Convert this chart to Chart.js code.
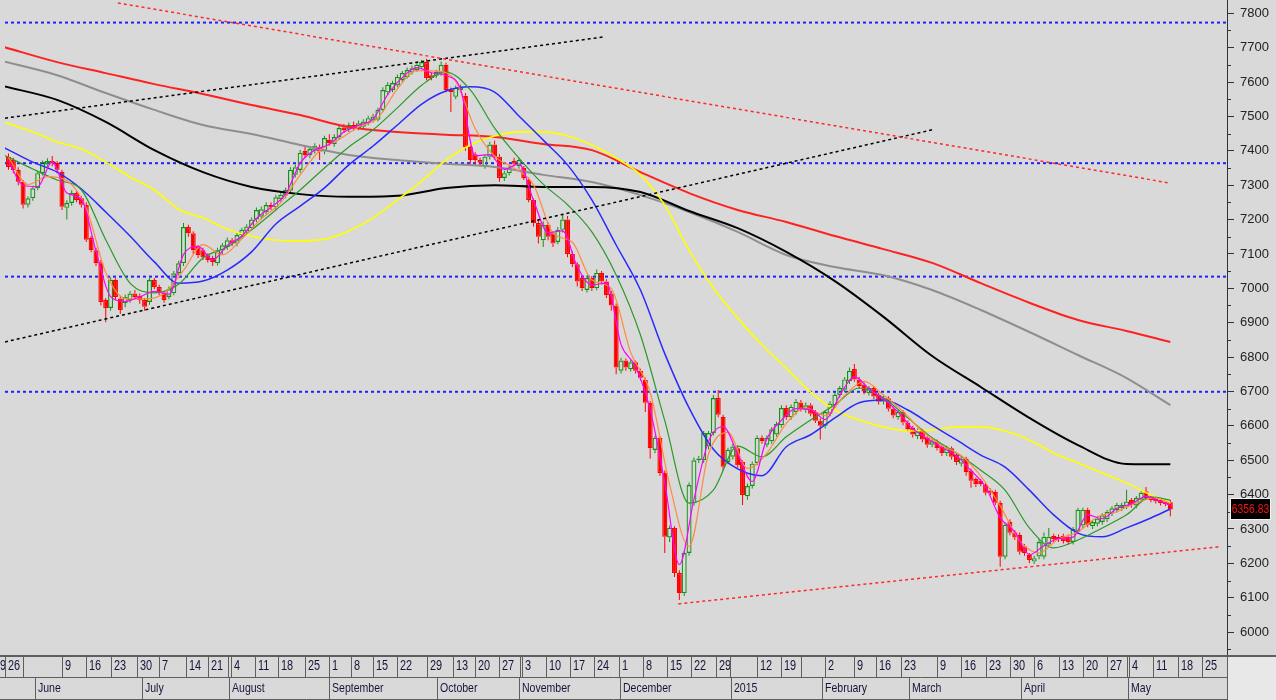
<!DOCTYPE html>
<html><head><meta charset="utf-8">
<script src="https://cdn.jsdelivr.net/npm/chart.js@4.4.1/dist/chart.umd.min.js"></script>
<style>html,body{margin:0;padding:0;background:#d9d9d9;overflow:hidden}canvas{display:block}</style>
</head><body>
<canvas id="c" width="1276" height="700"></canvas>
<script>
// ---------- candles (one entry per trading bar, index 0..239) ----------
const openP = [
7382,7373,7344,7310,7243,7262,7291,7335,7360,7370,
7365,7338,7234,7248,7277,7262,7243,7146,7111,7076,
6966,6943,7025,6970,6957,6965,6985,6978,6966,6960,
7024,7004,6986,6975,6986,7044,7073,7178,7160,7120,
7111,7096,7088,7073,7111,7120,7140,7130,7155,7165,
7175,7200,7208,7222,7242,7236,7260,7270,7284,7330,
7344,7400,7387,7400,7410,7398,7432,7420,7440,7468,
7462,7475,7466,7470,7480,7488,7490,7519,7570,7577,
7590,7606,7615,7628,7635,7643,7658,7620,7618,7625,
7650,7577,7557,7577,7560,7411,7390,7373,7355,7383,
7418,7383,7321,7335,7370,7355,7350,7315,7257,7190,
7140,7185,7160,7135,7170,7200,7100,7070,7030,6995,
7030,7000,7045,7020,6985,6950,6760,6790,6765,6785,
6760,6733,6667,6530,6565,6463,6275,6303,6172,6113,
6230,6375,6500,6500,6540,6579,6681,6626,6495,6510,
6535,6495,6395,6425,6492,6565,6545,6555,6575,6602,
6652,6625,6640,6668,6645,6660,6640,6615,6600,6635,
6660,6690,6705,6730,6765,6735,6720,6695,6710,6690,
6670,6680,6650,6625,6640,6610,6595,6570,6585,6565,
6545,6555,6540,6520,6535,6515,6490,6505,6470,6445,
6440,6428,6412,6408,6376,6219,6321,6290,6283,6250,
6225,6205,6220,6219,6255,6280,6277,6280,6277,6262,
6292,6310,6356,6308,6315,6320,6328,6345,6355,6360,
6365,6385,6368,6385,6410,6392,6388,6385,6380,6378];
const highP = [
7392,7380,7352,7315,7268,7298,7340,7372,7378,7385,
7370,7345,7256,7285,7282,7268,7250,7152,7118,7082,
6972,7032,7030,6978,6982,6992,6995,6985,6972,7030,
7030,7010,6992,7005,7050,7080,7190,7185,7166,7125,
7118,7102,7095,7118,7132,7148,7146,7162,7176,7186,
7206,7235,7238,7250,7250,7272,7280,7293,7352,7360,
7402,7415,7412,7422,7418,7444,7448,7448,7472,7478,
7482,7485,7488,7492,7502,7508,7525,7585,7600,7604,
7622,7632,7642,7648,7656,7664,7668,7626,7636,7660,
7656,7584,7590,7592,7568,7418,7396,7380,7390,7426,
7430,7390,7342,7358,7380,7380,7356,7322,7262,7200,
7195,7192,7166,7178,7215,7210,7108,7076,7036,7038,
7036,7055,7050,7026,6992,6956,6798,6796,6792,6790,
6766,6740,6672,6572,6570,6470,6310,6308,6180,6235,
6435,6508,6512,6585,6585,6690,6704,6632,6536,6548,
6542,6500,6432,6496,6572,6572,6572,6596,6612,6660,
6660,6662,6678,6675,6668,6666,6646,6622,6646,6672,
6696,6716,6742,6770,6780,6742,6726,6716,6716,6696,
6688,6686,6656,6648,6646,6616,6600,6592,6590,6570,
6562,6560,6546,6542,6540,6520,6512,6510,6476,6450,
6446,6434,6418,6414,6382,6318,6328,6296,6290,6256,
6230,6222,6270,6290,6303,6286,6284,6286,6284,6306,
6362,6362,6362,6326,6336,6346,6356,6366,6376,6376,
6414,6390,6396,6410,6422,6398,6394,6390,6386,6384];
const lowP = [
7345,7335,7300,7232,7235,7255,7285,7328,7352,7355,
7335,7228,7200,7240,7250,7235,7135,7105,7065,6950,
6901,6935,6965,6925,6945,6958,6968,6955,6935,6952,
6998,6980,6958,6968,6980,7038,7065,7150,7100,7088,
7082,7075,7065,7066,7100,7112,7122,7122,7148,7158,
7168,7192,7200,7215,7228,7228,7252,7262,7276,7322,
7336,7380,7378,7392,7373,7390,7415,7412,7432,7452,
7455,7458,7460,7465,7474,7482,7485,7512,7562,7570,
7585,7600,7610,7622,7630,7638,7605,7605,7612,7618,
7570,7513,7550,7570,7400,7362,7360,7355,7348,7375,
7375,7310,7312,7328,7355,7348,7315,7250,7180,7130,
7120,7140,7120,7128,7162,7090,7062,7005,6992,6988,
6992,6994,7012,6972,6935,6750,6752,6760,6758,6752,
6732,6640,6505,6520,6455,6230,6262,6160,6093,6105,
6222,6368,6492,6492,6532,6572,6625,6470,6488,6502,
6478,6370,6385,6418,6485,6548,6538,6548,6568,6595,
6618,6618,6632,6642,6638,6628,6608,6560,6592,6628,
6652,6682,6698,6722,6728,6708,6692,6688,6678,6662,
6662,6642,6622,6618,6602,6582,6566,6562,6552,6536,
6538,6528,6512,6512,6502,6486,6482,6455,6420,6422,
6424,6398,6398,6370,6190,6212,6282,6268,6226,6222,
6200,6198,6212,6212,6248,6262,6262,6258,6255,6255,
6285,6302,6305,6300,6308,6312,6320,6338,6348,6352,
6358,6362,6360,6378,6384,6378,6374,6368,6366,6337];
const closeP = [
7353,7344,7310,7243,7262,7291,7335,7368,7370,7365,
7345,7237,7248,7277,7257,7243,7141,7111,7073,6960,
6943,7025,6975,6937,6975,6985,6975,6966,6946,7024,
7004,6986,6966,6998,7044,7073,7178,7160,7111,7096,
7090,7082,7076,7111,7125,7140,7130,7155,7170,7180,
7200,7228,7230,7242,7236,7265,7272,7286,7345,7352,
7394,7387,7405,7415,7398,7437,7422,7440,7466,7460,
7475,7466,7480,7485,7495,7500,7519,7577,7592,7597,
7615,7626,7635,7640,7650,7658,7612,7612,7630,7650,
7577,7570,7583,7585,7411,7373,7373,7365,7383,7418,
7383,7321,7335,7350,7362,7373,7321,7257,7190,7150,
7185,7150,7130,7170,7200,7100,7070,7020,7000,7030,
7000,7045,7020,6980,6950,6770,6790,6770,6785,6760,
6740,6667,6535,6565,6463,6277,6303,6172,6113,6230,
6428,6500,6505,6579,6579,6681,6632,6481,6530,6540,
6485,6399,6425,6490,6565,6555,6565,6590,6605,6652,
6625,6655,6670,6650,6660,6635,6615,6600,6640,6665,
6690,6710,6735,6760,6735,6715,6700,6710,6685,6670,
6680,6650,6630,6640,6610,6590,6575,6585,6560,6545,
6555,6535,6520,6535,6510,6495,6505,6465,6440,6430,
6430,6405,6405,6376,6219,6312,6289,6275,6234,6230,
6210,6215,6262,6277,6277,6270,6270,6265,6262,6300,
6356,6356,6312,6320,6330,6340,6350,6360,6370,6370,
6380,6370,6390,6405,6390,6384,6380,6375,6372,6356.83];

const magentaIdx = [0,3,6,9,12,15,18,21,24,27,30,33,36,39,42,45,48,51,54,57,60,63,66,69,72,75,78,81,84,87,90,93,96,99,102,105,108,111,114,117,120,123,126,129,132,135,138,141,144,147,150,153,156,159,162,165,168,171,174,177,180,183,186,189,192,195,198,201,204,207,210,213,216,219,222,225,228,231,234,237,239];
const magentaMA = [7370,7299,7296,7368,7277,7259,7108,6976,6962,6975,6991,6983,7098,7122,7083,7125,7152,7203,7236,7274,7364,7402,7419,7455,7474,7493,7563,7613,7642,7627,7619,7579,7386,7389,7346,7362,7256,7162,7167,7063,7010,7015,6837,6772,6647,6435,6196,6386,6554,6598,6518,6438,6562,6616,6650,6648,6618,6688,6743,6708,6678,6640,6592,6563,6537,6513,6470,6422,6333,6292,6225,6251,6272,6276,6341,6330,6360,6373,6395,6380,6368];
const orangeIdx = [0,4,8,12,16,20,24,28,32,36,40,44,48,52,56,60,64,68,72,76,80,84,88,92,96,100,104,108,112,116,120,124,128,132,136,140,144,148,152,156,160,164,168,172,176,180,184,188,192,196,200,204,208,212,216,220,224,228,232,236,239];
const orangeMA = [7380,7302,7325,7313,7233,7046,6971,6969,6985,7052,7127,7097,7144,7202,7249,7330,7400,7433,7469,7496,7580,7633,7632,7602,7465,7384,7350,7301,7161,7134,7024,6999,6813,6697,6429,6249,6518,6581,6476,6520,6607,6652,6630,6688,6729,6689,6642,6584,6543,6513,6454,6367,6266,6230,6271,6291,6335,6350,6376,6390,6374];
const step5Idx = [-1,5,10,15,20,25,30,35,40,45,50,55,60,65,70,75,80,85,90,95,100,105,110,115,120,125,130,135,140,145,150,155,160,165,170,175,180,185,190,195,200,205,210,215,220,225,230,235,239];
const greenMA = [7388,7347,7315,7286,7141,7015,6987,7012,7088,7120,7170,7228,7286,7350,7411,7461,7525,7591,7629,7577,7466,7379,7303,7243,7164,7039,6864,6615,6375,6413,6541,6510,6568,6617,6661,6710,6681,6623,6565,6521,6471,6413,6303,6245,6268,6303,6341,6393,6384];
const blueMA = [7410,7367,7338,7289,7222,7152,7077,7015,7021,7053,7106,7187,7239,7292,7359,7414,7475,7536,7574,7586,7571,7501,7431,7359,7257,7126,6995,6810,6652,6532,6475,6455,6539,6574,6623,6667,6675,6646,6602,6559,6515,6480,6413,6341,6288,6277,6303,6332,6358];
const yellowMA = [7484,7455,7426,7405,7367,7324,7286,7230,7205,7172,7152,7140,7138,7143,7167,7205,7257,7312,7373,7417,7443,7455,7455,7443,7417,7379,7330,7242,7111,7001,6914,6835,6768,6698,6646,6617,6597,6585,6588,6597,6597,6585,6559,6521,6492,6463,6434,6399,6376];
const step10Idx = [-1,10,20,30,40,50,60,70,80,90,100,110,120,130,140,150,160,170,180,190,200,210,220,230,239];
const blackMA = [7588,7548,7484,7402,7338,7295,7274,7266,7269,7292,7300,7295,7295,7280,7225,7175,7106,7021,6917,6803,6713,6623,6544,6489,6488];
const grayMA  = [7660,7620,7568,7519,7475,7449,7417,7388,7373,7362,7353,7330,7309,7271,7222,7164,7097,7062,7038,6995,6937,6873,6806,6739,6660];
const redMA   = [7702,7658,7626,7594,7565,7533,7504,7469,7455,7447,7440,7420,7402,7338,7277,7228,7193,7152,7114,7074,7015,6958,6908,6876,6844];

// ---------- drawn trend lines and levels ----------
const redTopLine    = [[22.5, 7830], [239, 7306]];
const redBottomLine = [[137.8, 6082], [248.9, 6248]];
const blackLowLine  = [[-0.72, 6844], [190, 7461]];
const blackHighLine = [[-0.72, 7495], [122.3, 7731]];
const blueLevels    = [7773, 7364, 7034, 6699];

// ---------- axis ----------
const xMin = -0.72, xMax = 250.66;
const yMin = 5933.3, yMax = 7838.7;
const yTickValues = [6000,6100,6200,6300,6400,6500,6600,6700,6800,6900,7000,7100,7200,7300,7400,7500,7600,7700,7800];
const yMinorTicks = [5950,6050,6150,6250,6350,6450,6550,6650,6750,6850,6950,7050,7150,7250,7350,7450,7550,7650,7750];
const weekSepPos = [-3.5,-0.7,3,11,16,21,26.5,31,36.5,41,45.2,45.7,50.7,55.5,61,66,70.5,75,80,86,91.5,96,101,105.2,105.7,110.5,115.5,120.5,125.5,130.5,135.5,140.5,145.5,148.5,154,159,163,168,174,178.5,183.5,191,196,201,206,211,216,221,226,230,230.5,235.5,240.5,245.5];
const weekLabels = ['19','26','','9','16','23','30','7','14','21','','4','11','18','25','1','8','15','22','29','13','20','27','','3','10','17','24','1','8','15','22','29','','12','19','','2','9','16','23','9','16','23','30','6','13','20','27','','4','11','18','25'];
const monthSepPos = [5.5,27.4,45.4,66,88.1,105.1,125.8,148.7,167.3,185.3,208.3,230.2];
const monthLabels = ['June','July','August','September','October','November','December','2015','February','March','April','May'];

// ---------- build datasets ----------
const UP = '#129212', DN = '#ff0000';
const bars = closeP.map((c, i) => i);
const up = i => closeP[i] >= openP[i];
const pts = (ix, vals) => ix.map((x, k) => ({x, y: vals[k]}));
const seg = (a) => a.map(p => ({x: p[0], y: p[1]}));

function lineDs(data, color, width, order, dash) {
  return {type: 'line', data, borderColor: color, borderWidth: width, pointRadius: 0,
    fill: false, order, borderDash: dash || [], cubicInterpolationMode: dash ? 'default' : 'monotone'};
}

const datasets = [
  {type: 'bar', data: bars.map(i => ({x: i, y: [Math.max(openP[i], closeP[i]), highP[i]]})),
   backgroundColor: bars.map(i => up(i) ? UP : DN), borderWidth: 0, barThickness: 1, grouped: false, inflateAmount: 0, order: 31},
  {type: 'bar', data: bars.map(i => ({x: i, y: [lowP[i], Math.min(openP[i], closeP[i])]})),
   backgroundColor: bars.map(i => up(i) ? UP : DN), borderWidth: 0, barThickness: 1, grouped: false, inflateAmount: 0, order: 31},
  {type: 'bar', data: bars.map(i => ({x: i, y: [openP[i], closeP[i]]})),
   backgroundColor: bars.map(i => up(i) ? 'rgba(0,0,0,0)' : DN),
   borderColor: bars.map(i => up(i) ? UP : DN), borderWidth: 1.2, borderSkipped: false,
   barThickness: 5, grouped: false, inflateAmount: 0, order: 30},
  lineDs(pts(step10Idx, redMA), '#ff2020', 2, 12),
  lineDs(pts(step10Idx, grayMA), '#8e8e8e', 2, 13),
  lineDs(pts(step10Idx, blackMA), '#000000', 2, 11),
  lineDs(pts(step5Idx, yellowMA), '#ffff00', 1.6, 10),
  lineDs(pts(step5Idx, blueMA), '#2a2aff', 1.5, 9),
  lineDs(pts(step5Idx, greenMA), '#2a9a2a', 1.2, 8),
  lineDs(pts(orangeIdx, orangeMA), '#ff8a40', 1.2, 7),
  lineDs(pts(magentaIdx, magentaMA), '#ff00ff', 1.2, 6),
  lineDs(seg(redTopLine), '#ff2a2a', 1.5, 4, [3, 3]),
  lineDs(seg(redBottomLine), '#ff2a2a', 1.5, 4, [3, 3]),
  lineDs(seg(blackLowLine), '#000000', 1.5, 4, [3, 3]),
  lineDs(seg(blackHighLine), '#000000', 1.5, 4, [3, 3]),
  ...blueLevels.map(v => lineDs([{x: xMin, y: v}, {x: xMax, y: v}], '#2020ff', 2, 40, [3, 3]))
];

const AXIS_FONT = '"Liberation Sans", Arial, sans-serif';
const frame = {
  id: 'frame',
  beforeDraw(chart) {
    const {ctx, width, height} = chart;
    ctx.save(); ctx.fillStyle = '#d9d9d9'; ctx.fillRect(0, 0, width, height); ctx.restore();
  },
  afterDraw(chart) {
    const {ctx, chartArea: ca, width, height} = chart;
    const xs = chart.scales.x, ys = chart.scales.y;
    ctx.save();
    ctx.strokeStyle = '#333'; ctx.lineWidth = 1;
    yMinorTicks.forEach(v => {
      const y = Math.round(ys.getPixelForValue(v)) + 0.5;
      ctx.beginPath(); ctx.moveTo(ca.right, y); ctx.lineTo(ca.right + 4, y); ctx.stroke();
    });
    const top = ca.bottom, mid = top + 22, bot = height;
    ctx.fillStyle = '#d9d9d9'; ctx.fillRect(0, top, ca.right, bot - top);
    ctx.fillStyle = '#e8e8e8'; ctx.fillRect(ca.right + 1, top + 1, width - ca.right, bot - top);
    ctx.strokeStyle = '#5e5e5e';
    const hl = (x0, x1, y) => { ctx.beginPath(); ctx.moveTo(x0, y); ctx.lineTo(x1, y); ctx.stroke(); };
    const vl = (x, y0, y1) => { ctx.beginPath(); ctx.moveTo(x, y0); ctx.lineTo(x, y1); ctx.stroke(); };
    ctx.lineWidth = 2; hl(0, width, top + 1);
    ctx.lineWidth = 1; hl(0, ca.right, mid + 0.5); hl(0, ca.right, bot - 0.5);
    const xr = Math.round(ca.right) + 0.5; vl(xr, top, bot);
    ctx.beginPath(); ctx.rect(0, top, ca.right, bot - top); ctx.clip();
    ctx.fillStyle = '#15153a'; ctx.textBaseline = 'alphabetic'; ctx.textAlign = 'left';
    const txt = (s, x, y, size) => {
      ctx.save(); ctx.font = size + 'px ' + AXIS_FONT; ctx.translate(x, y); ctx.scale(0.78, 1);
      ctx.fillText(s, 0, 0); ctx.restore();
    };
    weekSepPos.forEach((p, k) => {
      const x = Math.round(xs.getPixelForValue(p)) + 0.5;
      vl(x, top + 2, mid);
      if (weekLabels[k]) txt(weekLabels[k], x + 2.5, top + 15, 14);
    });
    monthSepPos.forEach((p, k) => {
      const x = Math.round(xs.getPixelForValue(p)) + 0.5;
      vl(x, mid, bot);
      txt(monthLabels[k], x + 2.5, mid + 15, 13.5);
    });
    ctx.restore();
    // last price tag
    const last = closeP[closeP.length - 1];
    const py = Math.round(ys.getPixelForValue(last));
    ctx.save();
    ctx.fillStyle = '#000'; ctx.fillRect(1230, py - 11, 41, 22);
    ctx.strokeStyle = '#f4f4f4'; ctx.lineWidth = 1; ctx.strokeRect(1230.5, py - 10.5, 40, 21);
    ctx.fillStyle = '#ff1010'; ctx.font = '12px ' + AXIS_FONT; ctx.textBaseline = 'middle';
    ctx.translate(1250.5, py + 0.5); ctx.scale(0.86, 1); ctx.textAlign = 'center';
    ctx.fillText(last.toFixed(2), 0, 0);
    ctx.restore();
  }
};

new Chart(document.getElementById('c'), {
  type: 'bar',
  data: {datasets},
  options: {
    responsive: false, animation: false, events: [],
    layout: {padding: {left: 5, right: 0, top: 0, bottom: 45}},
    scales: {
      x: {type: 'linear', min: xMin, max: xMax, display: false, offset: false},
      y: {
        position: 'right', min: yMin, max: yMax,
        afterBuildTicks: s => { s.ticks = yTickValues.map(v => ({value: v})); },
        afterFit: s => { s.width = 49; s.paddingTop = 0; s.paddingBottom = 0; },
        ticks: {callback: v => String(v), color: '#222', font: {family: AXIS_FONT, size: 13}, padding: 6},
        grid: {drawOnChartArea: false, drawTicks: true, tickLength: 7, color: '#333'},
        border: {display: true, color: '#333', width: 1}
      }
    },
    plugins: {legend: {display: false}, tooltip: {enabled: false}}
  },
  plugins: [frame]
});
</script></body></html>
